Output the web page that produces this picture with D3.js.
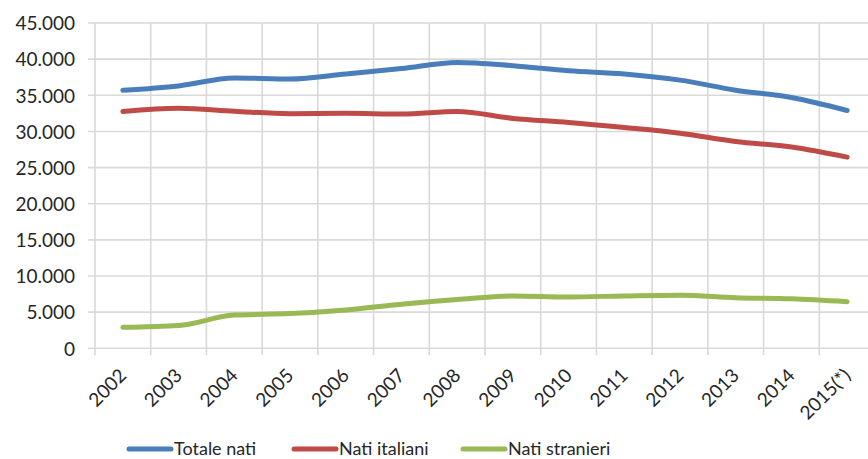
<!DOCTYPE html>
<html>
<head>
<meta charset="utf-8">
<script src="https://cdn.jsdelivr.net/npm/d3@7"></script>
<style>
  html, body { margin: 0; padding: 0; background: #fff; }
  svg { display: block; }
  text { font-family: Lato, "Noto Sans", sans-serif; fill: #262626; }
</style>
</head>
<body>
<svg id="chart" width="868" height="459"></svg>
<script>
// Births by year
const years = ["2002","2003","2004","2005","2006","2007","2008","2009","2010","2011","2012","2013","2014","2015(*)"];
const totaleNati   = [35700, 36300, 37400, 37250, 37950, 38700, 39550, 39100, 38400, 37950, 37100, 35700, 34700, 32900];
const natiItaliani = [32750, 33200, 32800, 32450, 32500, 32400, 32750, 31800, 31250, 30550, 29750, 28600, 27850, 26450];
const natiStranieri = [2900, 3150, 4600, 4800, 5300, 6100, 6750, 7250, 7100, 7250, 7350, 7000, 6850, 6450];
const seriesNames = ["Totale nati", "Nati italiani", "Nati stranieri"];
const yTicks = [0, 5000, 10000, 15000, 20000, 25000, 30000, 35000, 40000, 45000];

const seriesValues = [totaleNati, natiItaliani, natiStranieri];
const colors = ["#4a7ebb", "#be4b48", "#98b954"];

const svg = d3.select("#chart");
const plotLeft = 95, plotRight = 875, plotTop = 23, plotBottom = 348.3;

const x = d3.scaleBand().domain(years).range([plotLeft, plotRight]).padding(0);
const y = d3.scaleLinear().domain([0, 45000]).range([plotBottom, plotTop]);

const fmt = v => d3.format(",")(v).replace(/,/g, ".");
const grid = "#d9d9d9";

// horizontal gridlines with small outer ticks
svg.append("g").selectAll("line").data(yTicks).join("line")
  .attr("x1", plotLeft - 7).attr("x2", plotRight)
  .attr("y1", d => y(d)).attr("y2", d => y(d))
  .attr("stroke", grid).attr("stroke-width", 1.6);

// vertical gridlines at category boundaries, extending below the axis as ticks
const bounds = d3.range(years.length + 1).map(i => plotLeft + i * x.step());
svg.append("g").selectAll("line").data(bounds).join("line")
  .attr("x1", d => d).attr("x2", d => d)
  .attr("y1", plotTop).attr("y2", plotBottom + 7)
  .attr("stroke", grid).attr("stroke-width", 1.6);

// y labels
svg.append("g").selectAll("text").data(yTicks).join("text")
  .attr("x", 75).attr("y", d => y(d)).attr("dy", "0.38em")
  .attr("text-anchor", "end").attr("font-size", 19)
  .text(d => fmt(d));

// x labels, rotated
svg.append("g").selectAll("text").data(years).join("text")
  .attr("transform", d => `translate(${x(d) + x.bandwidth() / 2},372) rotate(-45)`)
  .attr("text-anchor", "end").attr("dy", "0.35em").attr("font-size", 19)
  .text(d => d);

// series lines
const line = d3.line()
  .x((d, i) => x(years[i]) + x.bandwidth() / 2)
  .y(d => y(d))
  .curve(d3.curveMonotoneX);

svg.append("g").selectAll("path").data(seriesValues).join("path")
  .attr("d", d => line(d))
  .attr("fill", "none")
  .attr("stroke", (d, i) => colors[i])
  .attr("stroke-width", 5)
  .attr("stroke-linecap", "round")
  .attr("stroke-linejoin", "round");

// legend
const legendX = [129, 294, 463];
const lg = svg.append("g").selectAll("g").data(seriesNames).join("g")
  .attr("transform", (d, i) => `translate(${legendX[i]},449)`);
lg.append("line").attr("x1", 0).attr("x2", 42).attr("y1", 0).attr("y2", 0)
  .attr("stroke", (d, i) => colors[i]).attr("stroke-width", 5).attr("stroke-linecap", "round");
lg.append("text").attr("x", 45).attr("y", 5.5).attr("font-size", 18).text(d => d);
</script>
</body>
</html>
